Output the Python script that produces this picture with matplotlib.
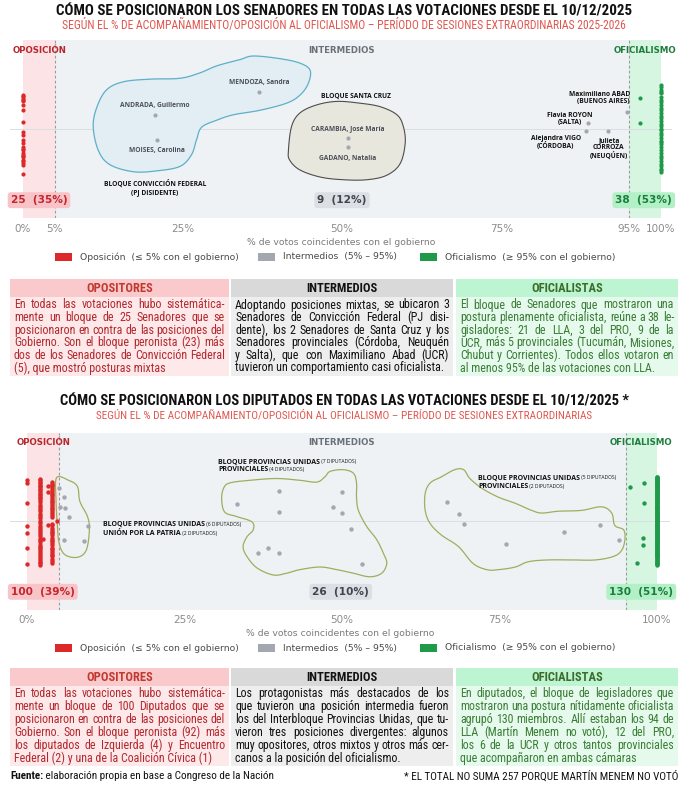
import numpy as np
import matplotlib
matplotlib.use("Agg")
import matplotlib.pyplot as plt
from matplotlib import font_manager
from matplotlib.patches import Rectangle, Polygon
from matplotlib.transforms import offset_copy

avail = {f.name for f in font_manager.fontManager.ttflist}
NARROW = next((f for f in ["Liberation Sans Narrow", "Arial Narrow", "Roboto Condensed"] if f in avail),
              "Liberation Sans")
LBL = "Open Sans" if "Open Sans" in avail else "DejaVu Sans"

# ---------------- datos: senado ----------------
sen_counts = [25, 9, 38]
sen_pcts = [35, 12, 53]
sen_opo_y = [0.38, 0.37, 0.356, 0.34, 0.33, 0.31, 0.27, 0.21, 0.08, -0.03,
             -0.07, -0.12, -0.16, -0.20, -0.22, -0.24, -0.27, -0.29, -0.30, -0.32,
             -0.35, -0.36, -0.38, -0.40, -0.50]
sen_ofi_y = [0.50, 0.47, 0.44, 0.40, 0.33, 0.30, 0.27, 0.24, 0.21, 0.18, 0.15,
             0.09, 0.06, 0.03, 0.00, -0.04, -0.07, -0.10, -0.13, -0.17, -0.20, -0.24,
             -0.30, -0.33, -0.36, -0.39, -0.42, -0.45, -0.48, 0.36, 0.12, -0.27, 0.42,
             -0.01, -0.15, -0.46]
sen_ofi_near_x = [96.7, 96.7]
sen_ofi_near_y = [0.35, 0.07]
sen_int_names = ["ANDRADA, Guillermo", "MOISES, Carolina", "MENDOZA, Sandra",
                 "CARAMBIA, José María", "GADANO, Natalia", "Maximiliano ABAD\n(BUENOS AIRES)",
                 "Flavia ROYON\n(SALTA)", "Alejandra VIGO\n(CÓRDOBA)", "Julieta\nCORROZA\n(NEUQÚEN)"]
sen_int_x = [20.7, 21.0, 37.0, 51.0, 51.0, 94.7, 88.5, 88.2, 91.7]
sen_int_y = [0.16, -0.12, 0.42, -0.10, -0.20, 0.19, 0.07, -0.02, -0.02]

# ---------------- datos: diputados ----------------
dip_counts = [100, 26, 130]
dip_pcts = [39, 10, 51]
dip_opo_cols = {
    0.0: [0.46, 0.43, 0.20, -0.06, -0.14, -0.31, -0.49],
    2.1: [0.48, 0.46, 0.44, 0.43, 0.41, 0.40, 0.38, 0.36, 0.35, 0.33, 0.31, 0.29, 0.27,
          0.26, 0.24, 0.22, 0.18, 0.16, 0.13, 0.11, 0.08, 0.06, 0.03, 0.00, -0.02, -0.06,
          -0.08, -0.10, -0.12, -0.15, -0.17, -0.20, -0.22, -0.24, -0.27, -0.29, -0.31,
          -0.33, -0.35, -0.37, -0.40, -0.42, -0.44, -0.46, -0.48, -0.50],
    4.0: [0.44, 0.42, 0.41, 0.39, 0.37, 0.35, 0.33, 0.31, 0.29, 0.27, 0.25, 0.23, 0.21,
          0.19, 0.17, 0.15, 0.13, 0.11, 0.09, 0.07, 0.05, -0.03, -0.05, -0.08, -0.10,
          -0.12, -0.14, -0.16, -0.19, -0.21, -0.23, -0.25, -0.27, -0.30, -0.32, -0.34,
          -0.36, -0.38, -0.40, -0.43, -0.45, -0.47],
    3.3: [0.40, 0.33, -0.04],
    4.7: [0.00],
    2.6: [-0.20],
}
dip_int_x = [5.1, 5.8, 5.3, 6.1, 6.7, 9.7, 5.8, 9.1,
             40.0, 33.4, 40.0, 50.0, 48.5, 50.0, 51.5, 38.3, 36.7, 40.0, 53.1,
             66.7, 68.6, 69.4, 76.0, 85.3, 91.0, 93.9]
dip_int_y = [0.37, 0.27, 0.16, 0.15, 0.05, -0.06, -0.21, -0.23,
             0.34, 0.19, 0.105, 0.33, 0.155, 0.087, -0.09, -0.30, -0.365, -0.365, -0.486,
             0.22, 0.08, -0.034, -0.256, -0.12, -0.04, -0.22]
dip_ofi_y = [0.50, 0.49, 0.48, 0.47, 0.46, 0.45, 0.44, 0.43, 0.42, 0.41,
             0.40, 0.39, 0.38, 0.37, 0.36, 0.35, 0.34, 0.33, 0.32, 0.31,
             0.30, 0.29, 0.28, 0.27, 0.26, 0.25, 0.24, 0.23, 0.22, 0.21,
             0.20, 0.19, 0.18, 0.17, 0.16, 0.15, 0.14, 0.13, 0.12, 0.11,
             0.10, 0.09, 0.08, 0.07, 0.06, 0.05, 0.04, 0.03, 0.02, 0.01,
             0.00, -0.01, -0.02, -0.03, -0.04, -0.05, -0.06, -0.07, -0.08, -0.09,
             -0.10, -0.11, -0.12, -0.13, -0.14, -0.15, -0.16, -0.17, -0.18, -0.19,
             -0.20, -0.21, -0.22, -0.23, -0.24, -0.25, -0.26, -0.27, -0.28, -0.29,
             -0.30, -0.31, -0.32, -0.33, -0.34, -0.35, -0.36, -0.37, -0.38, -0.39,
             -0.40, -0.41, -0.42, -0.43, -0.44, -0.45, -0.46, -0.47, -0.48, -0.49,
             -0.50, 0.495, 0.455, 0.415, 0.375, 0.335, 0.295, 0.255, 0.215, 0.175,
             0.135, 0.095, 0.055, 0.015, -0.025, -0.065, -0.105, -0.145, -0.185, -0.225,
             -0.265, -0.305, -0.345, -0.385]
dip_ofi_near_x = [95.7, 97.9, 97.9, 97.8, 97.8, 96.9]
dip_ofi_near_y = [0.38, 0.43, 0.20, -0.195, -0.27, -0.47]

# contornos de bloques
blob_cf = [(11.0, 0.03), (11.6, 0.25), (13.1, 0.44), (15.7, 0.53), (19.9, 0.56), (24.6, 0.57),
           (27.7, 0.63), (30.4, 0.71), (34.0, 0.78), (36.1, 0.82), (40.3, 0.79), (43.4, 0.74),
           (45.0, 0.66), (44.7, 0.51), (43.4, 0.38), (41.3, 0.29), (37.1, 0.21), (33.0, 0.16),
           (30.4, 0.10), (28.0, 0.02), (27.2, -0.12), (26.4, -0.29), (24.6, -0.42), (21.0, -0.47),
           (17.3, -0.48), (13.6, -0.40), (11.8, -0.24)]
blob_sc = [(41.6, -0.24), (42.1, 0.03), (43.4, 0.18), (46.0, 0.27), (49.2, 0.31), (52.8, 0.29),
           (56.0, 0.25), (58.6, 0.16), (59.6, 0.03), (59.9, -0.16), (59.1, -0.39), (57.0, -0.52),
           (53.9, -0.57), (50.2, -0.57), (46.6, -0.54), (43.4, -0.46), (41.8, -0.35)]
blob_d1 = [(4.7, 0.49), (6.6, 0.46), (8.0, 0.39), (8.4, 0.22), (9.6, 0.05), (9.9, -0.10),
           (9.4, -0.33), (8.0, -0.41), (6.0, -0.38), (5.1, -0.25), (4.8, -0.03), (4.6, 0.24)]
blob_d2 = [(31.2, 0.37), (32.2, 0.43), (35.4, 0.46), (39.6, 0.48), (43.3, 0.46), (46.0, 0.44),
           (47.3, 0.50), (48.1, 0.56), (50.2, 0.58), (51.8, 0.54), (52.3, 0.43), (52.3, 0.27),
           (52.6, 0.12), (53.9, -0.06), (55.5, -0.21), (56.6, -0.37), (57.1, -0.48), (56.3, -0.59),
           (54.4, -0.63), (51.8, -0.59), (49.2, -0.55), (46.5, -0.52), (43.3, -0.55), (41.2, -0.59),
           (39.1, -0.61), (36.5, -0.53), (34.9, -0.40), (34.3, -0.29), (34.9, -0.18), (35.9, -0.10),
           (35.7, -0.01), (33.3, 0.05), (31.4, 0.10), (30.9, 0.24)]
blob_d3 = [(63.2, 0.31), (64.0, 0.43), (65.8, 0.50), (67.9, 0.58), (69.3, 0.58), (70.3, 0.48),
           (72.2, 0.37), (74.8, 0.27), (77.5, 0.20), (80.1, 0.12), (81.7, 0.09), (84.3, 0.11),
           (88.0, 0.12), (91.2, 0.16), (92.8, 0.09), (93.3, -0.05), (94.7, -0.10), (94.9, -0.21),
           (94.4, -0.33), (93.1, -0.40), (90.2, -0.44), (86.5, -0.44), (82.7, -0.44), (79.6, -0.46),
           (77.5, -0.52), (74.8, -0.55), (73.0, -0.55), (70.8, -0.48), (68.5, -0.29), (65.8, -0.16),
           (64.0, -0.03), (63.2, 0.12)]

sen_text = [
    ["En todas las votaciones hubo sistemática-",
     "mente un bloque de 25 Senadores que se",
     "posicionaron en contra de las posiciones del",
     "Gobierno. Son el bloque peronista (23) más",
     "dos de los Senadores de Convicción Federal",
     "(5), que mostró posturas mixtas"],
    ["Adoptando posiciones mixtas, se ubicaron 3",
     "Senadores de Convicción Federal (PJ disi-",
     "dente), los 2 Senadores de Santa Cruz y los",
     "Senadores provinciales (Córdoba, Neuquén",
     "y Salta), que con Maximiliano Abad (UCR)",
     "tuvieron un comportamiento casi oficialista."],
    ["El bloque de Senadores que mostraron una",
     "postura plenamente oficialista, reúne a 38 le-",
     "gisladores: 21 de LLA, 3 del PRO, 9 de la",
     "UCR, más 5 provinciales (Tucumán, Misiones,",
     "Chubut y Corrientes). Todos ellos votaron en",
     "al menos 95% de las votaciones con LLA."],
]
dip_text = [
    ["En todas las votaciones hubo sistemática-",
     "mente un bloque de 100 Diputados que se",
     "posicionaron en contra de las posiciones del",
     "Gobierno. Son el bloque peronista (92) más",
     "los diputados de Izquierda (4) y Encuentro",
     "Federal (2) y una de la Coalición Cívica (1)"],
    ["Los protagonistas más destacados de los",
     "que tuvieron una posición intermedia fueron",
     "los del Interbloque Provincias Unidas, que tu-",
     "vieron tres posiciones divergentes: algunos",
     "muy opositores, otros mixtos y otros más cer-",
     "canos a la posición del oficialismo."],
    ["En diputados, el bloque de legisladores que",
     "mostraron una postura nítidamente oficialista",
     "agrupó 130 miembros. Allí estaban los 94 de",
     "LLA (Martín Menem no votó), 12 del PRO,",
     "los 6 de la UCR y otros tantos provinciales",
     "que acompañaron en ambas cámaras"],
]
headers = ["OPOSITORES", "INTERMEDIOS", "OFICIALISTAS"]

# ---------------- estilos ----------------
RED, GRAY, GREEN = "#dc2a2a", "#a3a7b0", "#1f9a48"
PINK_BG, PANEL_BG, GREEN_BG = "#fce3e5", "#eef2f4", "#d6f6e1"

fig = plt.figure(figsize=(6.88, 7.85), dpi=100)
R = fig.canvas.get_renderer()
base = fig.add_axes([0, 0, 1, 1], zorder=0)
base.set_xlim(0, 688)
base.set_ylim(785, 0)
base.axis("off")


def fit(t, width):
    w = t.get_window_extent(R).width
    t.set_fontsize(t.get_fontsize() * width / w)
    return t


def smooth(pts, n=24):
    P = np.array(pts)
    k = len(P)
    t = np.linspace(0, 1, n, endpoint=False)[:, None]
    out = []
    for i in range(k):
        p0, p1, p2, p3 = P[(i - 1) % k], P[i], P[(i + 1) % k], P[(i + 2) % k]
        out.append(0.5 * (2 * p1 + (-p0 + p2) * t + (2 * p0 - 5 * p1 + 4 * p2 - p3) * t ** 2
                          + (-p0 + 3 * p1 - 3 * p2 + p3) * t ** 3))
    return np.vstack(out)


def two_part(ax, x, y, bold, small, fs1=5.0, fs2=3.6, color="#111111"):
    t = ax.text(x, y, bold, fontsize=fs1, fontweight="bold", family=LBL, color=color,
                ha="left", va="baseline", zorder=6)
    w = t.get_window_extent(R).width
    tr = offset_copy(ax.transData, fig=fig, x=w, y=0, units="dots")
    ax.text(x, y, " " + small, transform=tr, fontsize=fs2, family=LBL, color=color,
            ha="left", va="baseline", zorder=6)


def chart(rect, xlim, ticks, counts, pcts, badge_x):
    ax = fig.add_axes(rect, zorder=2)
    ax.set_xlim(*xlim)
    ax.set_ylim(-1, 1)
    ax.patch.set_visible(False)
    ax.axvspan(0, 5, color=PINK_BG, lw=0, zorder=0)
    ax.axvspan(5, 95, color=PANEL_BG, lw=0, zorder=0)
    ax.axvspan(95, 100, color=GREEN_BG, lw=0, zorder=0)
    ax.axhline(0, color="#d9dee3", lw=0.7, zorder=0.5)
    for v in (5, 95):
        ax.axvline(v, color="#9b9b9b", lw=0.8, ls=(0, (2.5, 2)), zorder=0.6)
    for s in ax.spines.values():
        s.set_visible(False)
    ax.set_yticks([])
    ax.set_xticks(ticks)
    ax.set_xticklabels([f"{v}%" for v in ticks], color="#8c8c8c", fontsize=7.5)
    ax.tick_params(axis="x", length=0, pad=4)
    ax.text(-1.7, 0.885, "OPOSICIÓN", color="#b8262e", fontsize=6.2, fontweight="bold",
            ha="left", va="center")
    ax.text(50.0, 0.885, "INTERMEDIOS", color="#6b717a", fontsize=6.2, fontweight="bold",
            ha="center", va="center")
    ax.text(102.4, 0.885, "OFICIALISMO", color="#1d7d3c", fontsize=6.2, fontweight="bold",
            ha="right", va="center", clip_on=False)
    styles = [("#c3262e", "#f8c4c8"), ("#3f4650", "#dcdfe3"), ("#1a7f3c", "#b4f0c7")]
    for bx, c, p, (tc, bc) in zip(badge_x, counts, pcts, styles):
        ax.text(bx, -0.80, f"{c}  ({p}%)", color=tc, fontsize=7.6, fontweight="bold",
                ha="center", va="center", zorder=6,
                bbox=dict(boxstyle="round,pad=0.28,rounding_size=0.3", fc=bc, ec="none"))
    return ax


def legend(y):
    items = [(55, RED, "Oposición  (≤ 5% con el gobierno)"),
             (258, GRAY, "Intermedios  (5% – 95%)"),
             (420, GREEN, "Oficialismo  (≥ 95% con el gobierno)")]
    for x, c, lab in items:
        base.add_patch(Rectangle((x, y - 4), 17, 8, color=c, lw=0))
        base.text(x + 25, y, lab, fontsize=6.7, color="#4a4a4a", va="center", ha="left")


def table(y0, y_head_end, y1, texts, line_y):
    cols = [(10, 229), (231, 453), (456, 678)]
    hbg = ["#f9c9cc", "#d9d9d9", "#bdf4d1"]
    bbg = ["#fde9ea", "#eeeeee", "#e6f9ed"]
    hfg = ["#c0392f", "#111111", "#3c6b2b"]
    bfg = ["#b3282e", "#111111", "#3a7d35"]
    for (a, b), hb, bb, hf, h in zip(cols, hbg, bbg, hfg, headers):
        base.add_patch(Rectangle((a, y0), b - a, y_head_end - y0, color=hb, lw=0))
        base.add_patch(Rectangle((a, y_head_end), b - a, y1 - y_head_end, color=bb, lw=0))
        t = base.text((a + b) / 2, (y0 + y_head_end) / 2 + 0.5, h, family=[NARROW, "DejaVu Sans"],
                      fontweight="bold", color=hf, fontsize=9, ha="center", va="center")
    # tamaño comun de cuerpo
    fs = 20
    for (a, b), lines in zip(cols, texts):
        for ln in lines:
            t = base.text(0, 0, ln, family=[NARROW, "DejaVu Sans"], fontsize=10)
            w = t.get_window_extent(R).width
            t.remove()
            fs = min(fs, 10 * (b - a - 8) / w)
    for (a, b), lines, fg in zip(cols, texts, bfg):
        x0, x1 = a + 4, b - 4
        for i, (ln, y) in enumerate(zip(lines, line_y)):
            kw = dict(family=[NARROW, "DejaVu Sans"], fontsize=fs, color=fg, va="center", ha="left")
            if i == len(lines) - 1:
                base.text(x0, y, ln, **kw)
                continue
            words = ln.split(" ")
            ts = [base.text(0, y, w_, **kw) for w_ in words]
            ws = [t.get_window_extent(R).width for t in ts]
            gap = (x1 - x0 - sum(ws)) / (len(words) - 1)
            x = x0
            for t, w_ in zip(ts, ws):
                t.set_x(x)
                x += w_ + gap


# ---------------- titulos ----------------
fit(base.text(344, 11, "CÓMO SE POSICIONARON LOS SENADORES EN TODAS LAS VOTACIONES DESDE EL 10/12/2025",
              family=[NARROW, "DejaVu Sans"], fontweight="bold", fontsize=10, ha="center", va="center",
              color="#111111"), 577)
fit(base.text(344, 25, "SEGÚN EL % DE ACOMPAÑAMIENTO/OPOSICIÓN AL OFICIALISMO – PERÍODO DE SESIONES EXTRAORDINARIAS 2025-2026",
              family=[NARROW, "DejaVu Sans"], fontsize=8, ha="center", va="center", color="#e0574f"), 566)
fit(base.text(344, 401, "CÓMO SE POSICIONARON LOS DIPUTADOS EN TODAS LAS VOTACIONES DESDE EL 10/12/2025 *",
              family=[NARROW, "DejaVu Sans"], fontweight="bold", fontsize=10, ha="center", va="center",
              color="#111111"), 566)
fit(base.text(344, 415, "SEGÚN EL % DE ACOMPAÑAMIENTO/OPOSICIÓN AL OFICIALISMO – PERÍODO DE SESIONES EXTRAORDINARIAS",
              family=[NARROW, "DejaVu Sans"], fontsize=8, ha="center", va="center", color="#e0574f"), 498)

# ---------------- grafico senado ----------------
ax1 = chart([10 / 688, 1 - 218 / 785, 662 / 688, 178 / 785], (-2.04, 101.72),
            [0, 5, 25, 50, 75, 95, 100], sen_counts, sen_pcts, [2.5, 50.0, 97.3])
ax1.add_patch(Polygon(smooth(blob_cf), closed=True, fc="#e3edf4", ec="#5cb0c8", lw=0.9, zorder=1))
ax1.add_patch(Polygon(smooth(blob_sc), closed=True, fc="#e8e7de", ec="#4d4d4d", lw=0.8, zorder=1))
ax1.scatter([0] * len(sen_opo_y), sen_opo_y, s=9, color=RED, lw=0, zorder=3)
ax1.scatter([100] * len(sen_ofi_y), sen_ofi_y, s=9, color=GREEN, lw=0, zorder=3)
ax1.scatter(sen_ofi_near_x, sen_ofi_near_y, s=9, color=GREEN, lw=0, zorder=3)
ax1.scatter(sen_int_x, sen_int_y, s=9, color=GRAY, lw=0, zorder=3)
lab_pos = [(20.7, 0.26, "center"), (21.0, -0.24, "center"), (37.0, 0.52, "center"),
           (50.9, 0.0, "center"), (50.9, -0.33, "center"), (95.1, 0.35, "right"),
           (85.7, 0.11, "center"), (83.5, -0.15, "center"), (91.8, -0.22, "center")]
for name, (lx, ly, ha) in zip(sen_int_names, lab_pos):
    multi = "\n" in name
    ax1.text(lx, ly, name, fontsize=4.8, fontweight="bold", family=LBL,
             color="#111111" if multi else "#4a4f57", ha=ha, va="center",
             multialignment=ha, linespacing=1.05, zorder=6)
ax1.text(52.2, 0.37, "BLOQUE SANTA CRUZ", fontsize=4.8, fontweight="bold", family=LBL,
         color="#111111", ha="center", va="center", zorder=6)
ax1.text(20.7, -0.66, "BLOQUE CONVICCIÓN FEDERAL\n(PJ DISIDENTE)", fontsize=4.8, fontweight="bold",
         family=LBL, color="#111111", ha="center", va="center", linespacing=1.1, zorder=6)
fit(ax1.set_xlabel("% de votos coincidentes con el gobierno", color="#7a7a7a", fontsize=7,
                   labelpad=3), 189)
legend(257)
table(279, 297, 376, sen_text, [305, 317.6, 330.2, 342.8, 355.4, 368])

# ---------------- grafico diputados ----------------
ax2 = chart([10 / 688, 1 - 609.5 / 785, 660 / 688, 177 / 785], (-2.70, 102.06),
            [0, 25, 50, 75, 100], dip_counts, dip_pcts, [2.5, 49.8, 97.5])
for b in (blob_d1, blob_d2, blob_d3):
    ax2.add_patch(Polygon(smooth(b), closed=True, fc="none", ec="#9caf5e", lw=0.9, zorder=1))
for cx, ys in dip_opo_cols.items():
    ax2.scatter([cx] * len(ys), ys, s=10, color=RED, lw=0, zorder=3)
ax2.scatter(dip_int_x, dip_int_y, s=10, color=GRAY, lw=0, zorder=3)
ax2.scatter([100] * len(dip_ofi_y), dip_ofi_y, s=10, color=GREEN, lw=0, zorder=3)
ax2.scatter(dip_ofi_near_x, dip_ofi_near_y, s=10, color=GREEN, lw=0, zorder=3)
two_part(ax2, 12.1, -0.06, "BLOQUE PROVINCIAS UNIDAS", "(6 DIPUTADOS)")
two_part(ax2, 12.1, -0.16, "UNIÓN POR LA PATRIA", "(2 DIPUTADOS)")
two_part(ax2, 30.3, 0.65, "BLOQUE PROVINCIAS UNIDAS", "(7 DIPUTADOS)")
two_part(ax2, 30.3, 0.56, "PROVINCIALES", "(4 DIPUTADOS)")
two_part(ax2, 71.6, 0.47, "BLOQUE PROVINCIAS UNIDAS", "(5 DIPUTADOS)")
two_part(ax2, 71.6, 0.37, "PROVINCIALES", "(2 DIPUTADOS)")
fit(ax2.set_xlabel("% de votos coincidentes con el gobierno", color="#7a7a7a", fontsize=7,
                   labelpad=3), 189)
legend(648)
table(668, 686, 766, dip_text, [693.5, 706.5, 719.5, 732.5, 745.5, 758.5])

# ---------------- pie ----------------
t = fit(base.text(678, 776, "* EL TOTAL NO SUMA 257 PORQUE MARTÍN MENEM NO VOTÓ", family=[NARROW, "DejaVu Sans"],
                  fontsize=7, ha="right", va="center", color="#111111"), 276)
fs_foot = t.get_fontsize()
t1 = base.text(10, 776, "Fuente:", family=[NARROW, "DejaVu Sans"], fontweight="bold",
               fontsize=fs_foot, ha="left", va="center", color="#111111")
w1 = t1.get_window_extent(R).width
base.text(10, 776, " elaboración propia en base a Congreso de la Nación",
          transform=offset_copy(base.transData, fig=fig, x=w1, y=0, units="dots"),
          family=[NARROW, "DejaVu Sans"], fontsize=fs_foot, ha="left", va="center", color="#111111")

fig.savefig("out.png", dpi=100, facecolor="white")
